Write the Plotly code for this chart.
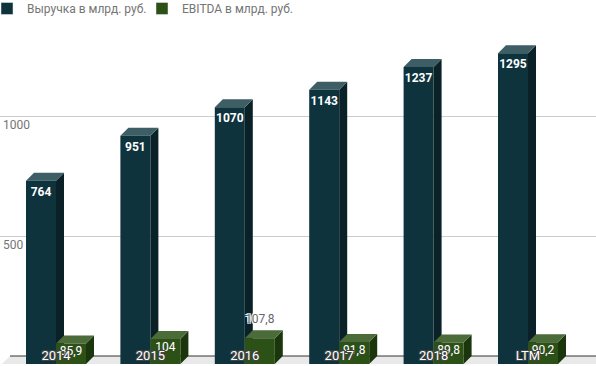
import plotly.graph_objects as go

# ---- data ----
categories = ["2014", "2015", "2016", "2017", "2018", "LTM"]
revenue = [764, 951, 1070, 1143, 1237, 1295]
ebitda = [85.9, 104, 107.8, 91.8, 89.8, 90.2]
revenue_labels = ["764", "951", "1070", "1143", "1237", "1295"]
ebitda_labels = ["85,9", "104", "107,8", "91,8", "89,8", "90,2"]
y_ticks = [500, 1000]
y_tick_labels = ["500", "1000"]
series_names = ["Выручка в млрд. руб.", "EBITDA в млрд. руб."]

# ---- geometry (pixel scale -> data units) ----
W, H = 596, 366
TOP = 30
PX_PER_X = 94.4
PX_PER_Y = 0.24
DEPTH_PX = 8
dx = DEPTH_PX / PX_PER_X
dy = DEPTH_PX / PX_PER_Y
bw = 30 / PX_PER_X
x0_px = 64
y0_px = 356
x_range = [(0 - x0_px) / PX_PER_X, (W - x0_px) / PX_PER_X]
y_range = [-(H - y0_px) / PX_PER_Y, (y0_px - TOP) / PX_PER_Y]

FONT = "Roboto, Arial, sans-serif"
GRAY = "#757575"

colors = {
    "rev": dict(front="#0e333d", top="#3d5e64", side="#0a2227"),
    "ebit": dict(front="#2b5117", top="#4b6b39", side="#1b360d"),
}

fig = go.Figure()

# legend entries
fig.add_trace(go.Bar(x=[None], y=[None], name=series_names[0],
                     marker_color=colors["rev"]["front"], showlegend=True))
fig.add_trace(go.Bar(x=[None], y=[None], name=series_names[1],
                     marker_color=colors["ebit"]["front"], showlegend=True))

# floor
fx0, fx1 = x_range[0] + 2 / PX_PER_X, x_range[1]
fig.add_trace(go.Scatter(
    x=[fx0, fx1, fx1 + dx, fx0 + dx, fx0],
    y=[-dy, -dy, 0, 0, -dy],
    fill="toself", fillcolor="#e9e9e9", mode="none",
    hoverinfo="skip", showlegend=False))
# back bottom edge
fig.add_trace(go.Scatter(
    x=[fx0 + dx, x_range[1]], y=[0, 0], mode="lines",
    line=dict(color="#333333", width=1), hoverinfo="skip", showlegend=False))


def boxes(values, offset, col):
    sx, sy, tx, ty, fxs, fys = [], [], [], [], [], []
    for i, v in enumerate(values):
        a = i - dx + offset
        b = a + bw
        # front
        fxs += [a, b, b, a, a, None]
        fys += [-dy, -dy, v - dy, v - dy, -dy, None]
        # top
        tx += [a, b, b + dx, a + dx, a, None]
        ty += [v - dy, v - dy, v, v, v - dy, None]
        # side
        sx += [b, b + dx, b + dx, b, b, None]
        sy += [-dy, 0, v, v - dy, -dy, None]
    for xs, ys, c in [(sx, sy, col["side"]), (tx, ty, col["top"]), (fxs, fys, col["front"])]:
        fig.add_trace(go.Scatter(x=xs, y=ys, fill="toself", fillcolor=c, mode="none",
                                 hoverinfo="skip", showlegend=False))


boxes(revenue, -bw, colors["rev"])
boxes(ebitda, 0, colors["ebit"])

# revenue labels (inside top of front face)
LBL_OFF = 12 / PX_PER_Y
fig.add_trace(go.Scatter(
    x=[i - dx - bw / 2 for i in range(len(revenue))],
    y=[v - dy - LBL_OFF for v in revenue],
    text=revenue_labels, mode="text", textposition="middle center",
    textfont=dict(family=FONT, size=12, color="white", weight="bold"),
    hoverinfo="skip", showlegend=False))

# ebitda labels: inside, except where label is placed above
inside = [True, True, False, True, True, True]
ex_in, ey_in, et_in, ex_out, ey_out, et_out = [], [], [], [], [], []
for i, (v, t) in enumerate(zip(ebitda, ebitda_labels)):
    xc = i - dx + bw / 2
    if inside[i]:
        ex_in.append(xc); ey_in.append(v - dy - 9 / PX_PER_Y); et_in.append(t)
    else:
        ex_out.append(xc); ey_out.append(v + 10 / PX_PER_Y); et_out.append(t)
fig.add_trace(go.Scatter(
    x=ex_in, y=ey_in, text=et_in, mode="text", textposition="middle center",
    textfont=dict(family=FONT, size=12, color="white",
                  shadow="0px 0px 1px #555"),
    hoverinfo="skip", showlegend=False))
fig.add_trace(go.Scatter(
    x=ex_out, y=ey_out, text=et_out, mode="text", textposition="middle center",
    textfont=dict(family=FONT, size=12, color="#666666",
                  shadow="1px 1px 0 #fff, -1px -1px 0 #fff, 1px -1px 0 #fff, -1px 1px 0 #fff"),
    hoverinfo="skip", showlegend=False))

outline = "1px 1px 0 #444, -1px -1px 0 #444, 1px -1px 0 #444, -1px 1px 0 #444"
fig.update_layout(
    width=W, height=H,
    margin=dict(l=0, r=0, t=TOP, b=0, autoexpand=False),
    paper_bgcolor="white", plot_bgcolor="white",
    font=dict(family=FONT, size=12, color=GRAY),
    showlegend=True,
    legend=dict(orientation="h", x=-13 / W, xanchor="left",
                y=1 + (TOP + 6) / (H - TOP), yanchor="top",
                entrywidth=110, entrywidthmode="pixels",
                font=dict(family=FONT, size=12, color=GRAY), bgcolor="rgba(0,0,0,0)",
                traceorder="normal"),
    xaxis=dict(type="linear", range=x_range, showgrid=False, zeroline=False, showline=False,
               tickmode="array", tickvals=[i - dx for i in range(len(categories))],
               ticktext=categories, ticklabelposition="inside", ticks="",
               tickfont=dict(family=FONT, size=13, color="white", shadow=outline),
               fixedrange=True),
    yaxis=dict(range=y_range, showgrid=True, gridcolor="#cccccc", gridwidth=1,
               zeroline=False, showline=False, tickmode="array", tickvals=y_ticks,
               ticktext=y_tick_labels, ticklabelposition="inside bottom", ticks="",
               tickfont=dict(family=FONT, size=12, color=GRAY), fixedrange=True),
)

fig.write_html("out.html")
